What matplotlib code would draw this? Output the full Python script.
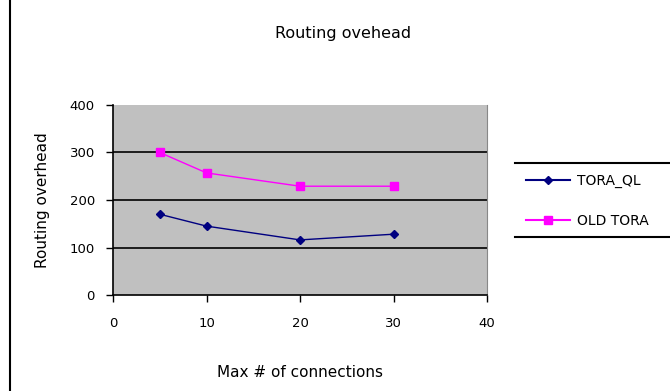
import matplotlib.pyplot as plt
from matplotlib.lines import Line2D

connections = [5, 10, 20, 30]
tora_ql = [170, 145, 116, 128]
old_tora = [300, 257, 229, 229]

plt.rcParams['font.family'] = ['DejaVu Sans']

fig = plt.figure(figsize=(6.7, 3.91), dpi=100)
ax = fig.add_axes([0.1687, 0.2455, 0.5582, 0.486])
ax.set_facecolor('#c0c0c0')

ax.plot(connections, tora_ql, color='#000080', marker='D', markersize=4.5,
        linewidth=1, label='TORA_QL')
ax.plot(connections, old_tora, color='#ff00ff', marker='s', markersize=6,
        linewidth=1, label='OLD TORA')

ax.set_xlim(0, 40)
ax.set_ylim(0, 400)
ax.set_xticks([0, 10, 20, 30, 40])
ax.set_yticks([0, 100, 200, 300, 400])
ax.tick_params(labelsize=9.5, length=5, width=1, direction='out')
ax.tick_params(axis='x', pad=11)
ax.tick_params(axis='y', pad=8)

for y in [100, 200, 300]:
    ax.axhline(y, color='black', linewidth=1.2, zorder=1)

ax.spines['top'].set_visible(False)
ax.spines['right'].set_color('#888888')
ax.spines['right'].set_linewidth(0.8)
ax.spines['left'].set_linewidth(1.2)
ax.spines['bottom'].set_linewidth(1.2)

ax.set_xlabel('Max # of connections', fontsize=11, labelpad=25)
ax.set_ylabel('Routing overhead', fontsize=11, labelpad=14)
fig.text(0.512, 0.915, 'Routing ovehead', ha='center', va='center', fontsize=11.5)

# legend: only top and bottom rules, running off the right edge
for yp in [163, 237]:
    fig.add_artist(Line2D([515 / 670, 1], [1 - yp / 391] * 2, color='black', linewidth=1.5))
handles, labels = ax.get_legend_handles_labels()
leg = fig.legend(handles, labels, loc='center left',
                 bbox_to_anchor=(513 / 670, 1 - 201 / 391), frameon=False,
                 fontsize=10, handlelength=3.2, labelspacing=1.9, handletextpad=0.5)
for ln in leg.get_lines():
    ln.set_linewidth(1.5)

# left border line of the page
fig.add_artist(Line2D([10 / 670, 10 / 670], [0, 1], color='black', linewidth=1.5))

fig.savefig('out.png', dpi=100)
